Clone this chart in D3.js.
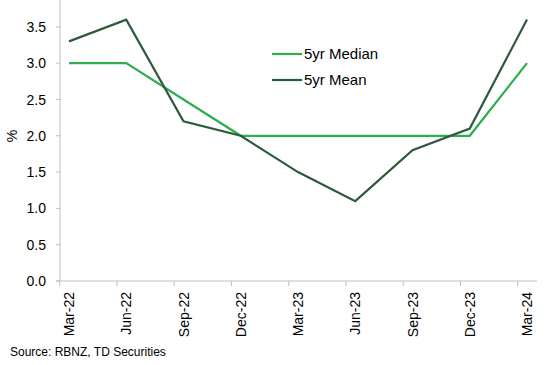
<!DOCTYPE html>
<html><head><meta charset="utf-8">
<script src="https://cdn.jsdelivr.net/npm/d3@7"></script>
<style>body{margin:0;background:#fff}svg{display:block}text{font-family:"Liberation Sans",Arial,sans-serif;fill:#000}</style>
</head><body><svg id="c" width="555" height="365"></svg>
<script>
const categories = ["Mar-22","Jun-22","Sep-22","Dec-22","Mar-23","Jun-23","Sep-23","Dec-23","Mar-24"];
const median = [3.0,3.0,2.5,2.0,2.0,2.0,2.0,2.0,3.0];
const mean = [3.3,3.6,2.2,2.0,1.5,1.1,1.8,2.1,3.6];
const yTicks = [0,0.5,1,1.5,2,2.5,3,3.5];
const seriesNames = ["5yr Median","5yr Mean"];
const colors = ["#2fae4f","#2d5a3c"];

const svg = d3.select("#c");
const x0 = 60, x1 = 537;
const step = 57.25;
const x = d3.scaleLinear().domain([0, categories.length-1]).range([69, 69+step*(categories.length-1)]);
const y = d3.scaleLinear().domain([0, 3.87]).range([281, 0]);
const axisCol = "#bfbfbf";

// y axis
svg.append("line").attr("x1",x0).attr("x2",x0).attr("y1",0).attr("y2",281).attr("stroke",axisCol);
yTicks.forEach(t=>{
  svg.append("line").attr("x1",x0-4).attr("x2",x0).attr("y1",y(t)).attr("y2",y(t)).attr("stroke",axisCol);
  svg.append("text").attr("x",46).attr("y",y(t)).attr("dy","0.36em").attr("text-anchor","end").attr("font-size","14px").text(t.toFixed(1));
});
// x axis
svg.append("line").attr("x1",x0-4).attr("x2",x1).attr("y1",281).attr("y2",281).attr("stroke",axisCol);
categories.forEach((c,i)=>{
  const tx = x(i)-9.3;
  svg.append("line").attr("x1",tx).attr("x2",tx).attr("y1",281).attr("y2",286).attr("stroke",axisCol);
  svg.append("text").attr("transform",`translate(${x(i)+5},292) rotate(-90)`).attr("text-anchor","end").attr("font-size","14px").text(c);
});
svg.append("text").attr("transform","translate(17,136) rotate(-90)").attr("text-anchor","middle").attr("font-size","14px").text("%");

const line = d3.line().x((d,i)=>x(i)).y(d=>y(d));
[median, mean].forEach((s,k)=>{
  svg.append("path").attr("d",line(s)).attr("fill","none").attr("stroke",colors[k]).attr("stroke-width",2.2).attr("stroke-linejoin","miter");
});
// legend
seriesNames.forEach((n,k)=>{
  const ly = 54 + k*26;
  svg.append("line").attr("x1",272).attr("x2",302).attr("y1",ly).attr("y2",ly).attr("stroke",colors[k]).attr("stroke-width",2.2);
  svg.append("text").attr("x",304).attr("y",ly).attr("dy","0.36em").attr("font-size","15px").text(n);
});
svg.append("text").attr("x",10).attr("y",356).attr("font-size","12px").text("Source: RBNZ, TD Securities");
</script></body></html>
